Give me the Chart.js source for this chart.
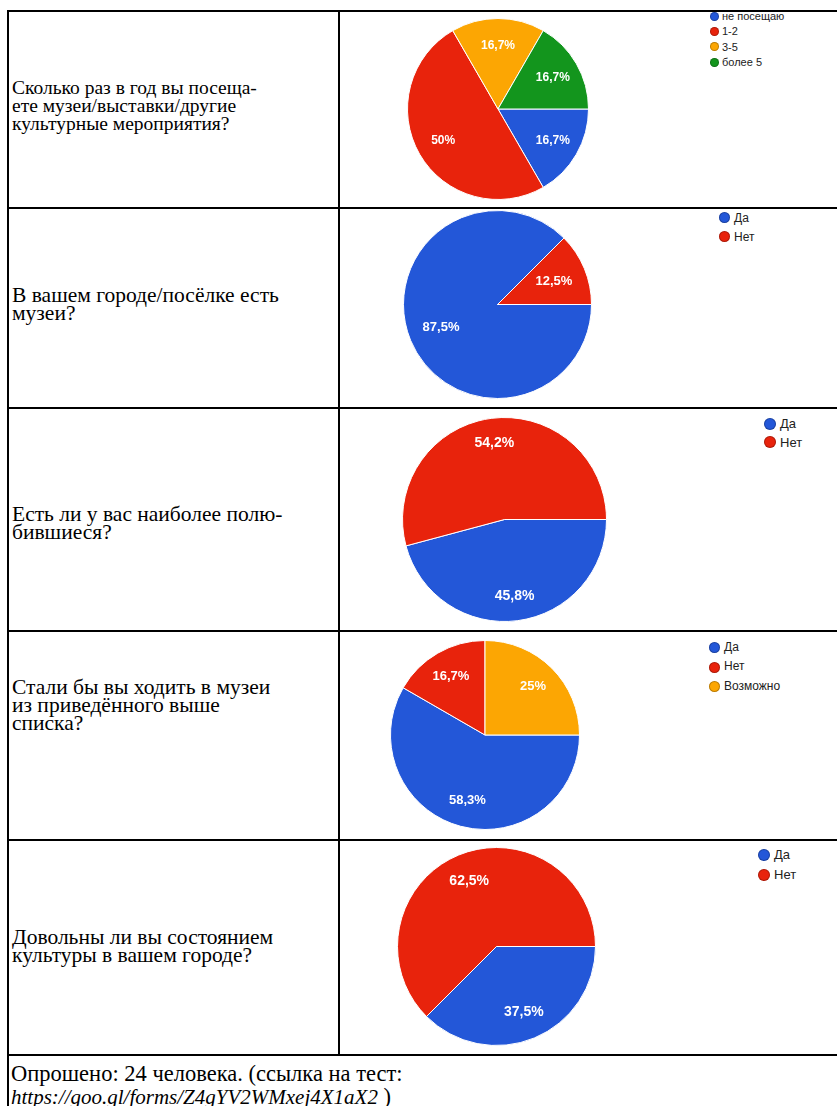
<!DOCTYPE html>
<html lang="ru">
<head>
<meta charset="utf-8">
<title>Опрос о музеях</title>
<script src="https://cdn.jsdelivr.net/npm/chart.js@4.4.0/dist/chart.umd.min.js"></script>
<style>
  html, body { margin: 0; padding: 0; background: #fff; width: 837px; height: 1106px; overflow: hidden; }
  .row { position: absolute; left: 7px; width: 860px; border-top: 2px solid #000; border-left: 2px solid #000; box-sizing: border-box; }
  .question {
    position: absolute; left: 0; top: 0; bottom: 0; width: 331px;
    border-right: 2px solid #000; box-sizing: border-box;
    display: flex; align-items: center; padding-left: 3px;
    font-family: 'Liberation Serif', 'Times New Roman', serif; font-size: 21.5px; line-height: 18px; color: #000;
  }
  .question.first { font-size: 19.5px; }
  .note { padding: 6px 0 0 2px; font-family: 'Liberation Serif', 'Times New Roman', serif; font-size: 22.5px; line-height: 23px; }
  .note i { font-size: 21px; }
  canvas { position: absolute; }
  .legend { position: absolute; font-family: Arial, 'Liberation Sans', sans-serif; color: #222; white-space: nowrap; }
  .legend .dot { display: inline-block; border-radius: 50%; vertical-align: middle; box-shadow: inset 0 0 0 1px rgba(0,0,0,0.25); }
  .legend span { vertical-align: middle; }

  #c1 { left: 407px; top: 18px; }
  #c2 { left: 403px; top: 210px; }
  #c3 { left: 402px; top: 417px; }
  #c4 { left: 390px; top: 640px; }
  #c5 { left: 397px; top: 847px; }

  #l1 { left: 710px; top: 8px; font-size: 11px; line-height: 14.5px; }
  #l1 .dot { width: 9px; height: 9px; margin-right: 3px; }
  #l2 { left: 719px; top: 208px; font-size: 12px; line-height: 18px; }
  #l2 .dot { width: 11px; height: 11px; margin-right: 4px; }
  #l3 { left: 764px; top: 414px; font-size: 13px; line-height: 18px; }
  #l3 .dot { width: 12px; height: 12px; margin-right: 4px; }
  #l4 { left: 709px; top: 638px; font-size: 12px; line-height: 19px; }
  #l4 .dot { width: 11px; height: 11px; margin-right: 4px; }
  #l5 { left: 758px; top: 844px; font-size: 13px; line-height: 19.5px; }
  #l5 .dot { width: 12px; height: 12px; margin-right: 4px; }
</style>
</head>
<body>

<div class="row" style="top:10px;height:197px"><div class="question first" style="padding-bottom:8px">Сколько раз в год вы посеща-<br>ете музеи/выставки/другие<br>культурные мероприятия?</div></div>
<div class="row" style="top:207px;height:200px"><div class="question" style="padding-bottom:8px">В вашем городе/посёлке есть<br>музеи?</div></div>
<div class="row" style="top:407px;height:223px"><div class="question" style="padding-top:6px">Есть ли у вас наиболее полю-<br>бившиеся?</div></div>
<div class="row" style="top:630px;height:209px"><div class="question" style="padding-bottom:62px">Стали бы вы ходить в музеи<br>из приведённого выше<br>списка?</div></div>
<div class="row" style="top:839px;height:215px"><div class="question" style="padding-bottom:4px">Довольны ли вы состоянием<br>культуры в вашем городе?</div></div>
<div class="row" style="top:1054px;height:80px"><div class="note">Опрошено: 24 человека. (ссылка на тест:<br><i>https://goo.gl/forms/Z4gYV2WMxej4X1aX2</i> )</div></div>

<canvas id="c1" width="182" height="182"></canvas>
<canvas id="c2" width="189" height="189"></canvas>
<canvas id="c3" width="205" height="205"></canvas>
<canvas id="c4" width="190" height="190"></canvas>
<canvas id="c5" width="199" height="199"></canvas>

<div class="legend" id="l1"></div>
<div class="legend" id="l2"></div>
<div class="legend" id="l3"></div>
<div class="legend" id="l4"></div>
<div class="legend" id="l5"></div>

<script>
// Answers (24 people asked)
const visitLabels = ['не посещаю', '1-2', '3-5', 'более 5'];
const visitCounts = [4, 12, 4, 4];

const museumLabels = ['Да', 'Нет'];
const museumCounts = [21, 3];

const favouriteLabels = ['Да', 'Нет'];
const favouriteCounts = [11, 13];

const wouldGoLabels = ['Да', 'Нет', 'Возможно'];
const wouldGoCounts = [14, 4, 6];

const satisfiedLabels = ['Да', 'Нет'];
const satisfiedCounts = [9, 15];

// Google Forms palette
const palette = ['#2357d8', '#e8230c', '#fca603', '#13951d'];

// 16.666 -> "16,7%"
function formatPct(p) {
    const r = Math.round(p * 10) / 10;
    return String(r).replace('.', ',') + '%';
}

// Draw percentages inside the slices
const pctLabels = {
    id: 'pctLabels',
    afterDatasetsDraw(chart, args, opts) {
        const ctx = chart.ctx;
        const values = chart.data.datasets[0].data;
        const total = values.reduce((a, b) => a + b, 0);
        ctx.save();
        ctx.fillStyle = '#fff';
        ctx.font = 'bold ' + opts.size + 'px Arial, "Liberation Sans", sans-serif';
        ctx.textAlign = 'center';
        ctx.textBaseline = 'middle';
        chart.getDatasetMeta(0).data.forEach((arc, i) => {
            const p = arc.getProps(['x', 'y', 'startAngle', 'endAngle', 'outerRadius'], true);
            const mid = (p.startAngle + p.endAngle) / 2;
            const d = p.outerRadius * opts.dist;
            ctx.fillText(formatPct(values[i] / total * 100), p.x + Math.cos(mid) * d, p.y + Math.sin(mid) * d);
        });
        ctx.restore();
    }
};

function makePie(canvasId, labels, counts, labelSize, labelDist) {
    new Chart(document.getElementById(canvasId), {
        type: 'pie',
        data: {
            labels: labels,
            datasets: [{
                data: counts,
                backgroundColor: palette.slice(0, counts.length),
                borderColor: '#ffffff',
                borderWidth: 1
            }]
        },
        options: {
            responsive: false,
            animation: false,
            rotation: 90,
            layout: { padding: 0 },
            plugins: {
                legend: { display: false },
                tooltip: { enabled: false },
                pctLabels: { size: labelSize, dist: labelDist }
            }
        },
        plugins: [pctLabels]
    });
}

function makeLegend(legendId, labels) {
    document.getElementById(legendId).innerHTML = labels.map((label, i) =>
        `<div><span class="dot" style="background:${palette[i]}"></span><span>${label}</span></div>`
    ).join('');
}

makePie('c1', visitLabels, visitCounts, 12, 0.7);
makePie('c2', museumLabels, museumCounts, 13, 0.65);
makePie('c3', favouriteLabels, favouriteCounts, 14, 0.76);
makePie('c4', wouldGoLabels, wouldGoCounts, 13, 0.72);
makePie('c5', satisfiedLabels, satisfiedCounts, 14, 0.72);

makeLegend('l1', visitLabels);
makeLegend('l2', museumLabels);
makeLegend('l3', favouriteLabels);
makeLegend('l4', wouldGoLabels);
makeLegend('l5', satisfiedLabels);
</script>
</body>
</html>
